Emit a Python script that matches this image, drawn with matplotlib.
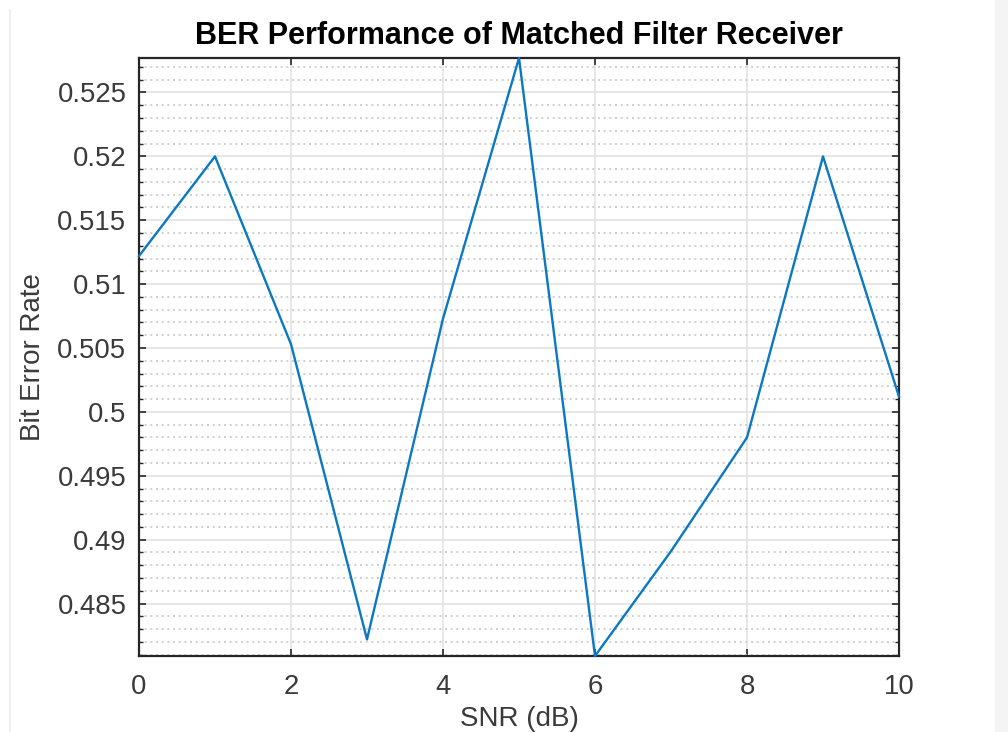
import matplotlib
matplotlib.use("Agg")
import matplotlib.pyplot as plt
from matplotlib.ticker import MultipleLocator
from matplotlib.patches import Rectangle
from matplotlib.lines import Line2D

# valeurs
snr_db = [0, 1, 2, 3, 4, 5, 6, 7, 8, 9, 10]
ber = [0.5122, 0.5200, 0.5053, 0.4822, 0.5073, 0.5277,
       0.4809, 0.4891, 0.4980, 0.5200, 0.5012]

x_ticks = [0, 2, 4, 6, 8, 10]
y_ticks = [0.485, 0.49, 0.495, 0.5, 0.505, 0.51, 0.515, 0.52, 0.525]
y_tick_labels = ["0.485", "0.49", "0.495", "0.5", "0.505", "0.51", "0.515", "0.52", "0.525"]

plt.rcParams['font.family'] = ['Liberation Sans', 'DejaVu Sans']

fig = plt.figure(figsize=(10.08, 7.32), dpi=100)
fig.patch.set_facecolor('white')

# panneau gris clair a droite et fine ligne a gauche (capture d'ecran)
fig.patches.append(Rectangle((995 / 1008, 0), 13 / 1008, 1, transform=fig.transFigure,
                             facecolor='#f4f4f4', edgecolor='none', zorder=0))
fig.lines.append(Line2D([10 / 1008, 10 / 1008], [0, 1 - 10 / 732], transform=fig.transFigure,
                        color='#ececec', lw=1.2))

ax = fig.add_axes([139 / 1008, 1 - 656 / 732, 760 / 1008, 598 / 732])
ax.plot(snr_db, ber, color='#0a78c2', lw=1.7, zorder=3, clip_on=False)

ax.set_xlim(0, 10)
ax.set_ylim(min(ber), max(ber))
ax.set_xticks(x_ticks)
ax.set_yticks(y_ticks)
ax.set_yticklabels(y_tick_labels)
ax.yaxis.set_minor_locator(MultipleLocator(0.001))

ax.grid(True, which='major', color='#e3e3e3', lw=1.2, ls='-')
ax.grid(True, which='minor', axis='y', color='#c8c8c8', lw=1.2, ls=(0, (1.2, 2.2)))
ax.set_axisbelow(True)

for s in ax.spines.values():
    s.set_color('#262626')
    s.set_linewidth(1.6)

ax.tick_params(which='both', direction='in', top=True, right=True, colors='#262626',
               labelcolor='#3a3a3a', labelsize=19.8)
ax.tick_params(which='major', length=5, width=1.2)
ax.tick_params(which='minor', length=3, width=1.0)
ax.tick_params(axis='x', pad=13)
ax.tick_params(axis='y', pad=9)

ax.set_xlabel('SNR (dB)', fontsize=20, color='#3a3a3a', labelpad=4)
ax.set_ylabel('Bit Error Rate', fontsize=20, color='#3a3a3a', labelpad=8)
ax.set_title('BER Performance of Matched Filter Receiver', fontsize=22, fontweight='bold',
             color='black', pad=10)

fig.savefig('out.png', dpi=100)
